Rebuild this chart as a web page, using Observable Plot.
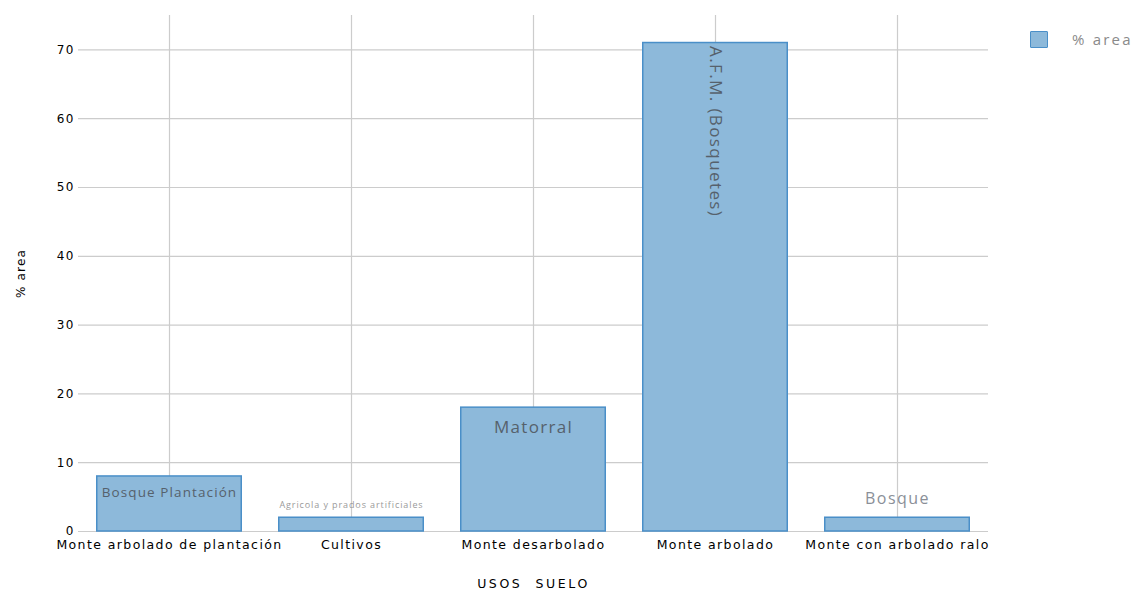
<!DOCTYPE html>
<html>
<head>
<meta charset="utf-8">
<script src="https://cdn.jsdelivr.net/npm/d3@7"></script>
<script src="https://cdn.jsdelivr.net/npm/@observablehq/plot@0.6"></script>
<style>
  html, body { margin: 0; padding: 0; background: #fff; }
  #wrap { position: relative; width: 1134px; height: 590px; }
  #legend { position: absolute; left: 1030px; top: 29px; display: flex; align-items: center; font-family: "Open Sans", sans-serif; font-size: 15px; color: #8a8a8a; letter-spacing: 2.2px; }
  #legend .sw { width: 18px; height: 17px; background: #8db9da; border: 1.5px solid #4a8fc8; box-sizing: border-box; border-radius: 1px; margin-right: 24px; }
  #chart svg g[aria-label="x-axis tick label"] text { font-family: "DejaVu Sans", sans-serif; letter-spacing: 1.4px; }
  #chart svg g[aria-label="y-axis tick label"] text { font-family: "DejaVu Sans", sans-serif; letter-spacing: 1.2px; }
  #chart svg g[aria-label="x-axis label"] text { font-family: "DejaVu Sans", sans-serif; letter-spacing: 2.6px; }
  #chart svg g[aria-label="y-axis label"] text { font-family: "DejaVu Sans", sans-serif; letter-spacing: 1.2px; }
  #chart svg .lbl0 text { letter-spacing: 1.1px; }
  #chart svg .lbl1 text { letter-spacing: 0.9px; }
  #chart svg .lbl2 text { letter-spacing: 1.3px; }
  #chart svg .lbl3 text { letter-spacing: 1.4px; }
  #chart svg .lbl4 text { letter-spacing: 1.5px; }
</style>
</head>
<body>
<div id="wrap">
  <div id="chart"></div>
  <div id="legend"><div class="sw"></div><span>% area</span></div>
</div>
<script>
const categories = ["Monte arbolado de plantación", "Cultivos", "Monte desarbolado", "Monte arbolado", "Monte con arbolado ralo"];
const values = [8, 2, 18, 71, 2];
const barLabels = ["Bosque Plantación", "Agricola y prados artificiales", "Matorral", "A.F.M. (Bosquetes)", "Bosque"];
const yTicks = [0, 10, 20, 30, 40, 50, 60, 70];
const seriesName = "% area";
const xTitle = "USOS  SUELO";

const data = categories.map((c, i) => ({cat: c, value: values[i], label: barLabels[i]}));
const one = i => [data[i]];

const labelFont = "Open Sans";

const chart = Plot.plot({
  width: 1134,
  height: 590,
  marginLeft: 78,
  marginRight: 146,
  marginTop: 15,
  marginBottom: 59,
  style: {fontSize: "12px", color: "#000", background: "#fff"},
  x: {domain: categories, paddingInner: 0.2, paddingOuter: 0.1, label: null},
  y: {domain: [0, 75], label: null},
  marks: [
    Plot.gridY(yTicks, {stroke: "#cccccc", strokeOpacity: 1, strokeWidth: 1.2}),
    Plot.gridX(categories, {stroke: "#cccccc", strokeOpacity: 1, strokeWidth: 1.2}),
    Plot.axisY(yTicks, {tickSize: 0, tickPadding: 4, fontSize: 12, label: seriesName, labelAnchor: "center", labelArrow: "none", labelOffset: 62, fill: "#000"}),
    Plot.axisX({tickSize: 0, tickPadding: 9, fontSize: 12.5, label: xTitle, labelAnchor: "center", labelArrow: "none", labelOffset: 56, fill: "#000"}),
    Plot.barY(data, {x: "cat", y: "value", fill: "#8db9da", stroke: "#4a8fc8", strokeWidth: 1.5, insetLeft: 0.75, insetRight: 0.75}),
    Plot.text(one(0), {className: "lbl0", x: "cat", y: "value", text: "label", dy: 16, fill: "#56616c", fontSize: 13.5, fontFamily: labelFont}),
    Plot.text(one(1), {className: "lbl1", x: "cat", y: "value", text: "label", dy: -13, fill: "#9a9a9a", fontSize: 9, fontFamily: labelFont}),
    Plot.text(one(2), {className: "lbl2", x: "cat", y: "value", text: "label", dy: 20, fill: "#56616c", fontSize: 17, fontFamily: labelFont}),
    Plot.text(one(3), {className: "lbl3", x: "cat", y: "value", text: "label", rotate: 90, textAnchor: "start", dy: 3, fill: "#56616c", fontSize: 17, fontFamily: labelFont}),
    Plot.text(one(4), {className: "lbl4", x: "cat", y: "value", text: "label", dy: -19, fill: "#8a8f98", fontSize: 16, fontFamily: labelFont})
  ]
});
document.getElementById("chart").appendChild(chart);
</script>
</body>
</html>
